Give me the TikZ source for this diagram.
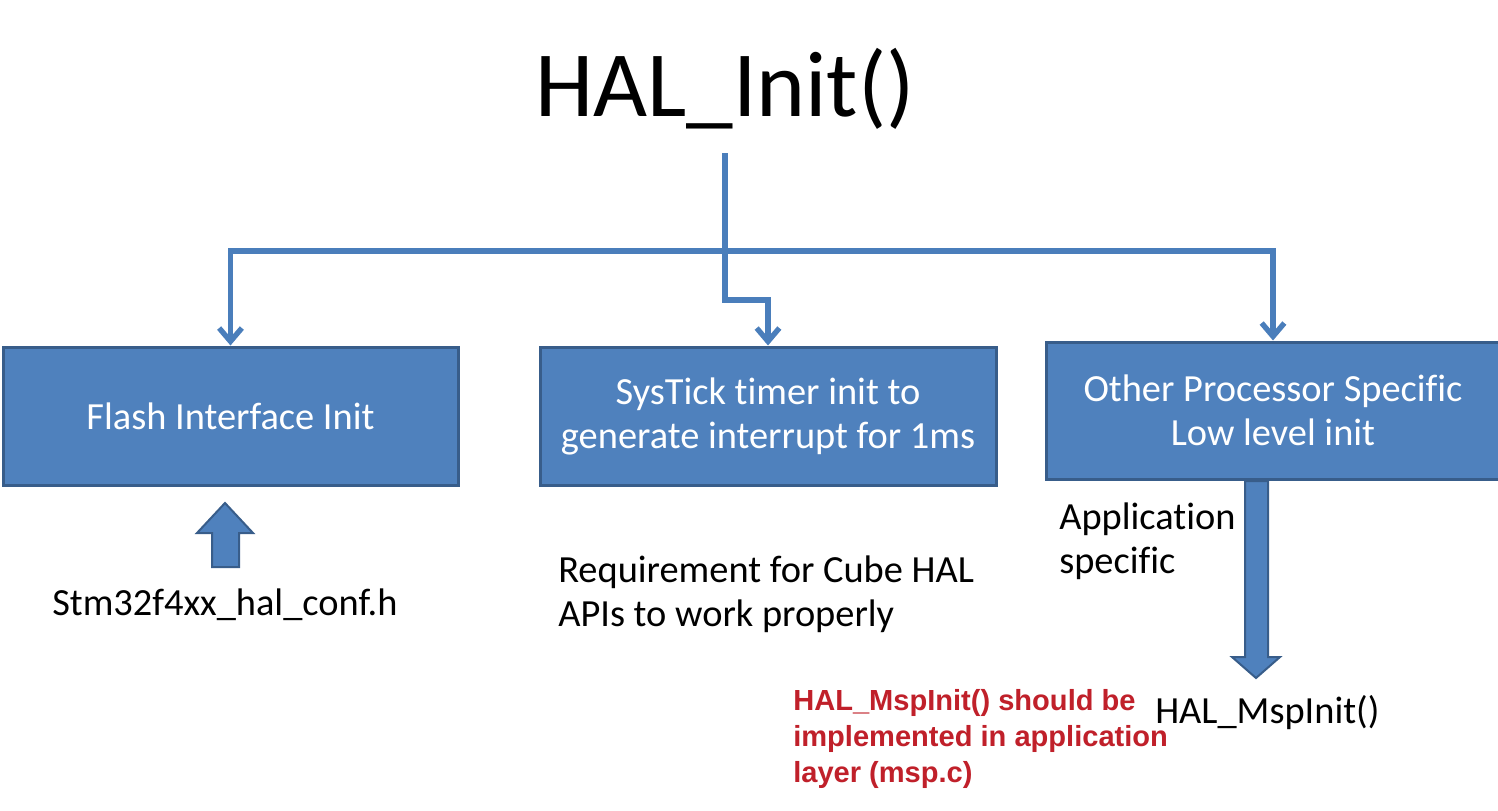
\documentclass[tikz,border=0pt]{standalone}
\usepackage{fontspec}
\setmainfont{Carlito}[RawFeature={-liga;-clig;-dlig}]
\newfontfamily\redfont{Liberation Sans}
\usetikzlibrary{arrows.meta}
\definecolor{boxfill}{RGB}{79,129,189}
\definecolor{boxline}{RGB}{56,93,138}
\definecolor{conn}{RGB}{74,126,187}
\definecolor{redtxt}{RGB}{192,32,42}
\tikzset{
  box/.style={draw=boxline, line width=2.25pt, fill=boxfill, text=white, align=center,
    font=\fontsize{28.8}{33}\selectfont, inner sep=0pt},
  conline/.style={draw=conn, line width=4pt},
  arr/.style={conline, -{Straight Barb[length=10pt,width=17pt]}},
  blockarrow/.style={draw=boxline, line width=1.5pt, fill=boxfill},
  plain/.style={text=black, font=\fontsize{28.8}{33}\selectfont, inner sep=0pt, align=left},
  rednote/.style={text=redtxt, font=\redfont\bfseries\fontsize{21.8}{27}\selectfont, inner sep=0pt, align=left}
}
\begin{document}
\begin{tikzpicture}[x=0.75pt,y=-0.75pt]
\useasboundingbox (0,0) rectangle (1498,810);
\clip (0,0) rectangle (1498,810);
\fill[white] (0,0) rectangle (1498,810);

\node[inner sep=0pt, font=\fontsize{70}{80}\selectfont] (title) at (725,89) {HAL\_Init()};

\node[box, minimum width=341.25pt, minimum height=103.5pt] (flash) at (230.5,416) {Flash Interface Init};
\node[box, minimum width=342pt, minimum height=103.5pt] (systick) at (768,416) {SysTick timer init to\\generate interrupt for 1ms};
\node[box, minimum width=340.5pt, minimum height=102.75pt] (other) at (1273,410.5) {Other Processor Specific\\Low level init};

\coordinate (j0) at (725,153);
\coordinate (hub) at (725,251);
\coordinate (jog) at (725,300);
\draw[conline] (j0) -- (hub);
\draw[arr] (hub) -| (flash.north);
\draw[arr] (hub) -| (other.north);
\draw[arr] (hub) -- (jog) -| (systick.north);

% block arrows
\draw[blockarrow] (212,567) -- (212,533) -- (197,533) -- (225,503) -- (253,533) -- (239,533) -- (239,567) -- cycle;
\draw[blockarrow] (1245,481) -- (1245,657) -- (1232,657) -- (1256,678) -- (1280,657) -- (1268,657) -- (1268,481) -- cycle;

\node[plain, anchor=west] (conf) at (52,605) {Stm32f4xx\_hal\_conf.h};
\node[plain, anchor=west] (req) at (558,594) {Requirement for Cube HAL\\APIs to work properly};
\node[plain, anchor=west] (app) at (1059,541) {Application\\specific};
\node[plain, anchor=west] (msp) at (1155,713) {HAL\_MspInit()};
\node[rednote, anchor=west] (note) at (793,739) {HAL\_MspInit() should be\\implemented in application\\layer (msp.c)};
\end{tikzpicture}
\end{document}
